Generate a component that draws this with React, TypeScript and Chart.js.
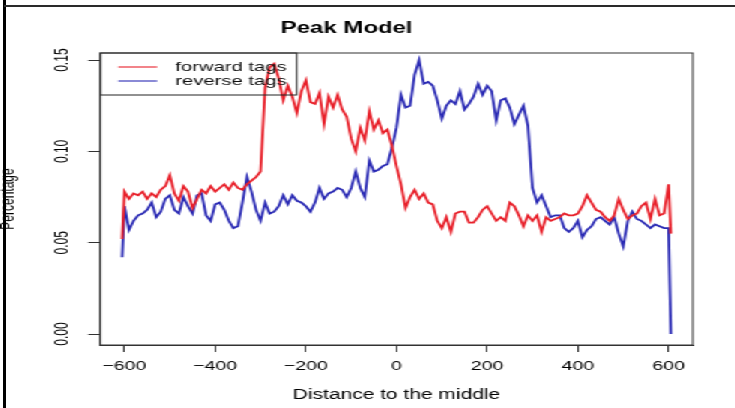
import React, { useEffect, useRef } from "react";
import { Chart, registerables } from "chart.js";

Chart.register(...registerables);

// Distance to the middle (bp)
const distances = [
  -605,
  -600, -590, -580, -570, -560, -550, -540, -530, -520, -510,
  -500, -490, -480, -470, -460, -450, -440, -430, -420, -410,
  -400, -390, -380, -370, -360, -350, -340, -330, -320, -310,
  -300, -290, -280, -270, -260, -250, -240, -230, -220, -210,
  -200, -190, -180, -170, -160, -150, -140, -130, -120, -110,
  -100, -90, -80, -70, -60, -50, -40, -30, -20, -10,
  0, 10, 20, 30, 40, 50, 60, 70, 80, 90,
  100, 110, 120, 130, 140, 150, 160, 170, 180, 190,
  200, 210, 220, 230, 240, 250, 260, 270, 280, 290,
  300, 310, 320, 330, 340, 350, 360, 370, 380, 390,
  400, 410, 420, 430, 440, 450, 460, 470, 480, 490,
  500, 510, 520, 530, 540, 550, 560, 570, 580, 590,
  600,
  605,
];

const forwardTags = [
  0.052,
  0.078, 0.074, 0.077, 0.076, 0.078, 0.074, 0.077, 0.075, 0.079, 0.081,
  0.087, 0.077, 0.073, 0.081, 0.078, 0.069, 0.074, 0.079, 0.077, 0.081,
  0.078, 0.080, 0.082, 0.079, 0.083, 0.080, 0.079, 0.082, 0.084, 0.086,
  0.089, 0.135, 0.146, 0.148, 0.140, 0.128, 0.136, 0.130, 0.121, 0.133,
  0.139, 0.127, 0.126, 0.132, 0.115, 0.130, 0.124, 0.131, 0.123, 0.119,
  0.107, 0.100, 0.113, 0.106, 0.122, 0.112, 0.117, 0.110, 0.112, 0.103,
  0.092, 0.082, 0.069, 0.075, 0.079, 0.074, 0.077, 0.072, 0.071, 0.062,
  0.058, 0.064, 0.056, 0.066, 0.067, 0.067, 0.061, 0.061, 0.064, 0.068,
  0.070, 0.066, 0.062, 0.064, 0.062, 0.072, 0.070, 0.065, 0.059, 0.065,
  0.062, 0.065, 0.056, 0.064, 0.062, 0.063, 0.064, 0.066, 0.065, 0.065,
  0.066, 0.070, 0.076, 0.072, 0.068, 0.067, 0.064, 0.062, 0.065, 0.074,
  0.068, 0.063, 0.065, 0.066, 0.070, 0.072, 0.063, 0.074, 0.065, 0.066,
  0.082,
  0.055,
];

const reverseTags = [
  0.042,
  0.070, 0.057, 0.062, 0.065, 0.066, 0.068, 0.072, 0.064, 0.067, 0.074,
  0.076, 0.068, 0.066, 0.075, 0.070, 0.066, 0.076, 0.077, 0.065, 0.062,
  0.071, 0.072, 0.068, 0.062, 0.058, 0.059, 0.072, 0.086, 0.078, 0.068,
  0.062, 0.072, 0.066, 0.067, 0.070, 0.076, 0.071, 0.076, 0.073, 0.072,
  0.070, 0.067, 0.072, 0.080, 0.074, 0.077, 0.078, 0.080, 0.079, 0.075,
  0.080, 0.089, 0.080, 0.075, 0.095, 0.089, 0.090, 0.092, 0.093, 0.102,
  0.113, 0.131, 0.124, 0.125, 0.142, 0.150, 0.137, 0.138, 0.136, 0.128,
  0.118, 0.125, 0.128, 0.126, 0.133, 0.123, 0.126, 0.130, 0.137, 0.131,
  0.136, 0.133, 0.117, 0.128, 0.129, 0.124, 0.115, 0.120, 0.125, 0.114,
  0.080, 0.072, 0.076, 0.070, 0.064, 0.065, 0.065, 0.058, 0.056, 0.058,
  0.062, 0.053, 0.057, 0.059, 0.063, 0.064, 0.062, 0.060, 0.064, 0.055,
  0.048, 0.062, 0.067, 0.063, 0.062, 0.060, 0.058, 0.060, 0.059, 0.058,
  0.058,
  0.000,
];

const seriesLabels = ["forward tags", "reverse tags"];
const seriesColors = ["#e8202a", "#2a2ab4"];

const xTickValues = [-600, -400, -200, 0, 200, 400, 600];
const xTickLabels = ["\u2212600", "\u2212400", "\u2212200", "0", "200", "400", "600"];
const yTickValues = [0, 0.05, 0.1, 0.15];
const yTickLabels = ["0.00", "0.05", "0.10", "0.15"];

const FONT = "'Liberation Sans', Arial, Helvetica, sans-serif";
const STRETCH = 1.5;
const W = 490;
const H = 408;

const boxPlugin = {
  id: "rBox",
  afterDraw(chart: any) {
    const { ctx, chartArea } = chart;
    ctx.save();
    ctx.strokeStyle = "#333";
    ctx.lineWidth = 1;
    ctx.strokeRect(chartArea.left, chartArea.top, chartArea.right - chartArea.left, chartArea.bottom - chartArea.top);
    ctx.restore();
  },
};

const legendPlugin = {
  id: "rLegend",
  afterDatasetsDraw(chart: any) {
    const { ctx, chartArea } = chart;
    const left = chartArea.left;
    const top = chartArea.top;
    ctx.save();
    ctx.strokeStyle = "#222";
    ctx.lineWidth = 1;
    ctx.strokeRect(left, top, 131, 42);
    chart.data.datasets.forEach((ds: any, i: number) => {
      const y = top + 14 + i * 14;
      ctx.strokeStyle = ds.borderColor;
      ctx.lineWidth = 1.1;
      ctx.beginPath();
      ctx.moveTo(left + 12, y);
      ctx.lineTo(left + 38, y);
      ctx.stroke();
      ctx.fillStyle = "#111";
      ctx.font = `13.5px ${FONT}`;
      ctx.textBaseline = "middle";
      ctx.textAlign = "left";
      ctx.fillText(ds.label, left + 50, y + 0.5);
    });
    ctx.restore();
  },
};

export default function App() {
  const canvasRef = useRef<HTMLCanvasElement | null>(null);

  useEffect(() => {
    if (!canvasRef.current) return;
    Chart.defaults.font.family = FONT;
    Chart.defaults.color = "#000";
    const chart = new Chart(canvasRef.current, {
      type: "line",
      data: {
        datasets: [
          {
            label: seriesLabels[0],
            data: distances.map((d, i) => ({ x: d, y: forwardTags[i] })),
            borderColor: seriesColors[0],
            borderWidth: 1.8,
            pointRadius: 0,
            tension: 0,
          },
          {
            label: seriesLabels[1],
            data: distances.map((d, i) => ({ x: d, y: reverseTags[i] })),
            borderColor: seriesColors[1],
            borderWidth: 1.8,
            pointRadius: 0,
            tension: 0,
          },
        ],
      },
      options: {
        animation: false,
        responsive: true,
        maintainAspectRatio: false,
        layout: { padding: { left: 0, right: 28, top: 0, bottom: 0 } },
        plugins: {
          legend: { display: false },
          tooltip: { enabled: false },
          title: {
            display: true,
            text: "Peak Model",
            color: "#000",
            font: { size: 16, weight: "bold", family: FONT },
            padding: { top: 19, bottom: 14.8 },
          },
        },
        scales: {
          x: {
            type: "linear",
            min: -653.4,
            max: 653.4,
            afterBuildTicks: (axis: any) => {
              axis.ticks = xTickValues.map((v) => ({ value: v }));
            },
            afterFit: (axis: any) => {
              axis.height = 63;
            },
            ticks: {
              autoSkip: false,
              maxRotation: 0,
              minRotation: 0,
              padding: 7,
              color: "#000",
              font: { size: 13, family: FONT },
              callback: (_v: any, i: number) => xTickLabels[i],
            },
            grid: {
              display: true,
              drawOnChartArea: false,
              drawTicks: true,
              tickLength: 7,
              color: "#333",
            },
            border: { display: true, color: "#333", width: 1 },
            title: {
              display: true,
              text: "Distance to the middle",
              color: "#000",
              font: { size: 14, family: FONT },
              padding: { top: 0, bottom: 4 },
            },
          },
          y: {
            type: "linear",
            min: -0.006,
            max: 0.1539,
            afterBuildTicks: (axis: any) => {
              axis.ticks = yTickValues.map((v) => ({ value: v }));
            },
            afterFit: (axis: any) => {
              axis.width = 66.7;
            },
            ticks: {
              autoSkip: false,
              minRotation: 90,
              maxRotation: 90,
              crossAlign: "center",
              padding: 5.5,
              color: "#000",
              font: { size: 12, family: FONT },
              callback: (_v: any, i: number) => yTickLabels[i],
            },
            grid: {
              display: true,
              drawOnChartArea: false,
              drawTicks: true,
              tickLength: 8,
              color: "#333",
            },
            border: { display: true, color: "#333", width: 1 },
            title: {
              display: true,
              text: "Percentage",
              color: "#000",
              font: { size: 12, family: FONT, lineHeight: 1 },
              padding: { top: 0, bottom: 0 },
            },
          },
        },
      },
      plugins: [legendPlugin, boxPlugin],
    } as any);
    return () => chart.destroy();
  }, []);

  return (
    <>
      <div
        style={{
          position: "fixed",
          left: 0,
          top: 0,
          width: W,
          height: H,
          transform: `scaleX(${STRETCH})`,
          transformOrigin: "0 0",
          background: "#fff",
        }}
      >
        <canvas ref={canvasRef} />
      </div>
      <div style={{ position: "fixed", left: 3, top: 0, width: 3, height: H, background: "#000" }} />
      <div style={{ position: "fixed", left: 4, top: 5, width: 731, height: 2, background: "#2a2a2a" }} />
    </>
  );
}
